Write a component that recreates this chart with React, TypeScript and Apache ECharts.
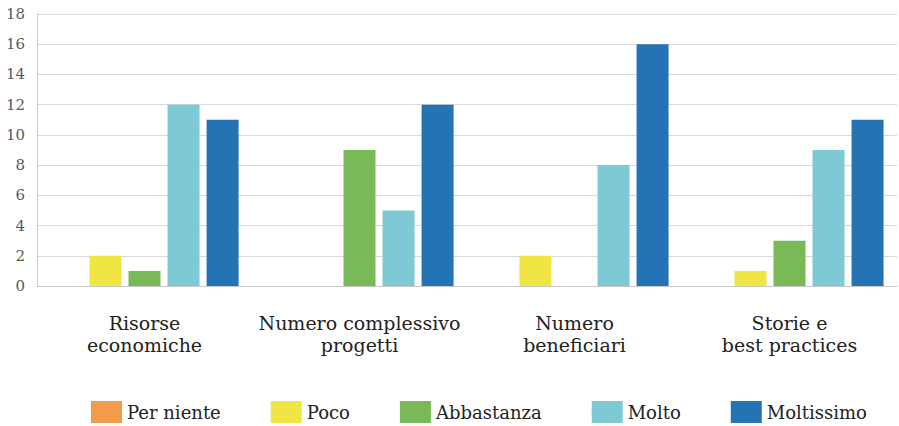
import React, { useEffect, useRef } from "react";
import * as echarts from "echarts";

const categories = [
  "Risorse\neconomiche",
  "Numero complessivo\nprogetti",
  "Numero\nbeneficiari",
  "Storie e\nbest practices",
];
const seriesNames = ["Per niente", "Poco", "Abbastanza", "Molto", "Moltissimo"];
const perNiente = [0, 0, 0, 0];
const poco = [2, 0, 2, 1];
const abbastanza = [1, 9, 0, 3];
const molto = [12, 5, 8, 9];
const moltissimo = [11, 12, 16, 11];
const colors = ["#F39A4B", "#F0E543", "#7AB958", "#7DC9D6", "#2473B5"];

const FONT = "DejaVu Serif";

export default function App() {
  const ref = useRef<HTMLDivElement>(null);
  useEffect(() => {
    document.body.style.margin = "0";
    if (!ref.current) return;
    const chart = echarts.init(ref.current, null, { renderer: "svg" });
    const values = [perNiente, poco, abbastanza, molto, moltissimo];
    chart.setOption({
      animation: false,
      backgroundColor: "#ffffff",
      textStyle: { fontFamily: FONT },
      grid: { left: 37, right: 2, top: 14, bottom: 140 },
      legend: {
        bottom: -2,
        left: 86,
        width: 810,
        itemWidth: 31,
        itemHeight: 22,
        itemGap: 50,
        icon: "rect",
        textStyle: { fontFamily: FONT, fontSize: 18, color: "#222" },
        data: seriesNames,
      },
      xAxis: {
        type: "category",
        data: categories,
        axisTick: { show: false },
        axisLine: { lineStyle: { color: "#c8c8c8", width: 1 } },
        axisLabel: {
          margin: 26,
          fontFamily: FONT,
          fontSize: 19,
          lineHeight: 22,
          color: "#222",
          interval: 0,
        },
      },
      yAxis: {
        type: "value",
        min: 0,
        max: 18,
        interval: 2,
        axisLine: { show: true, lineStyle: { color: "#d0d0d0" } },
        axisLabel: {
          margin: 12,
          fontFamily: FONT,
          fontSize: 15,
          color: "#595959",
        },
        splitLine: { lineStyle: { color: "#d9d9d9", width: 1 } },
      },
      series: seriesNames.map((name, i) => ({
        name,
        type: "bar",
        data: values[i],
        barWidth: 32,
        barGap: "22%",
        itemStyle: { color: colors[i] },
      })),
    });
    return () => chart.dispose();
  }, []);
  return <div ref={ref} style={{ width: 899, height: 426 }} />;
}
